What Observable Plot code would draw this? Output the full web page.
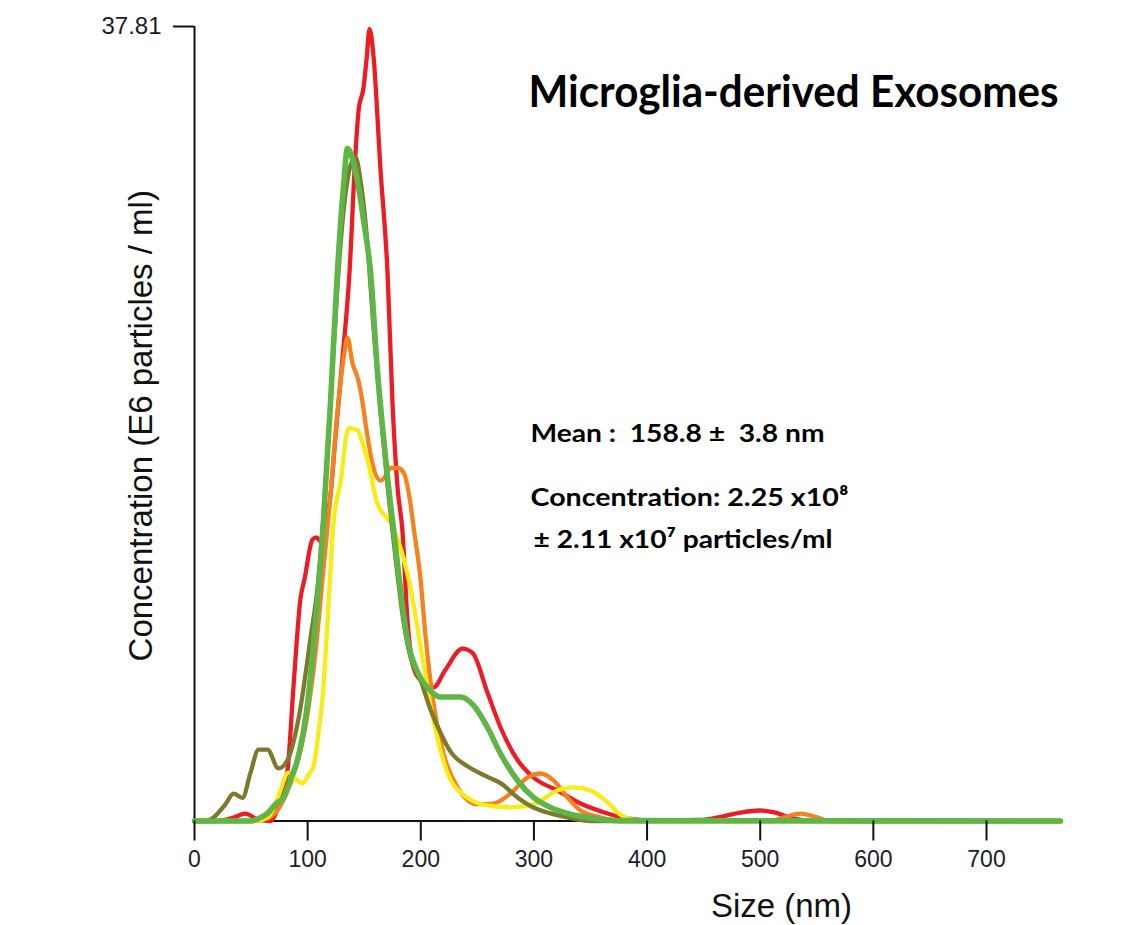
<!DOCTYPE html>
<html>
<head>
<meta charset="utf-8">
<script src="https://cdn.jsdelivr.net/npm/d3@7"></script>
<script src="https://cdn.jsdelivr.net/npm/@observablehq/plot@0.6"></script>
<style>
  html, body { margin: 0; padding: 0; background: #fff; }
</style>
</head>
<body>
<div id="chart"></div>
<script>
// ---- Data (size in nm, concentration in E6 particles / ml) ----
const red = [[0,0],[18.6,0],[33.6,0.15],[45.1,0.35],[56.6,0.05],[67.2,0],[77.8,1.45],[82.2,2.4],[87.5,6.4],[93.7,10.6],[97.2,11.5],[104.3,13.4],[107.8,13.5],[111.4,13.3],[115.8,14.0],[120.2,15.5],[124.6,18.3],[130.8,22.0],[137.0,26.1],[142.3,31.8],[145.0,33.8],[149.4,34.9],[152.0,36.2],[154.7,37.7],[158.2,36.4],[164.4,31.0],[170.6,26.1],[175.0,19.9],[179.4,15.9],[183.8,13.8],[188.3,9.5],[193.6,7.3],[199.8,6.7],[211.2,6.36],[221.8,7.2],[236.9,8.2],[245.7,8.0],[259.0,6.1],[270.5,4.45],[285.5,2.9],[299.6,2.07],[320.8,1.45],[341.2,0.83],[365.0,0.36],[382.7,0.12],[403.0,0.02],[447.2,0.05],[464.9,0.2],[482.6,0.4],[499.4,0.5],[513.5,0.4],[526.8,0.15],[544.5,0.02],[765.4,0]];
const orange = [[0,0],[49.5,0],[60.1,0.05],[71.6,0.4],[80.4,1.2],[89.3,2.5],[98.1,4.5],[106.9,8.0],[113.1,11.5],[120.2,15.5],[126.4,19.5],[131.7,22.0],[135.2,23.0],[139.6,21.8],[144.1,21.1],[146.7,20.5],[152.9,18.3],[157.3,17.0],[164.4,16.2],[168.8,16.4],[173.2,16.8],[179.4,16.8],[184.7,16.6],[190.9,15.1],[193.6,14.0],[199.8,11.5],[204.2,8.8],[211.2,5.6],[220.1,3.2],[232.5,1.6],[241.3,1.0],[250.1,0.8],[264.3,0.83],[279.3,1.31],[294.3,2.07],[305.8,2.26],[317.3,1.93],[329.7,1.12],[341.2,0.5],[358.8,0.17],[376.5,0],[509.1,0],[522.4,0.2],[535.6,0.35],[548.9,0.2],[562.1,0],[765.4,0]];
const yellow = [[0,0],[53.9,0],[65.4,0.2],[74.2,1.2],[83.1,2.3],[89.3,2.0],[95.5,1.8],[100.8,2.2],[105.2,2.6],[109.6,4.2],[114.0,6.4],[117.6,9.5],[122.9,14.2],[129.0,16.1],[136.1,18.7],[144.1,18.6],[148.5,18.0],[152.9,17.2],[161.7,15.1],[173.2,14.2],[182.1,13.0],[190.9,11.1],[199.8,8.3],[211.2,4.8],[223.6,2.3],[241.3,1.1],[259.0,0.74],[279.3,0.65],[299.6,0.8],[320.8,1.45],[335.0,1.6],[350.0,1.45],[365.0,0.9],[376.5,0.3],[389.8,0.05],[403.0,0],[765.4,0]];
const olive = [[0,0],[9.7,0],[16.8,0.17],[27.4,0.8],[34.5,1.3],[42.4,1.1],[49.5,2.3],[56.6,3.4],[64.5,3.4],[74.2,2.5],[82.2,2.9],[93.7,5.4],[102.5,8.7],[108.7,11.1],[114.0,14.5],[120.2,20.0],[126.4,25.5],[131.7,29.0],[137.9,31.2],[142.3,31.6],[146.7,30.5],[152.0,28.0],[158.2,23.5],[164.4,19.5],[171.5,15.5],[177.7,12.5],[184.7,9.5],[190.9,7.8],[199.8,6.7],[208.6,5.3],[217.4,4.2],[226.3,3.3],[241.3,2.6],[259.0,2.1],[270.5,1.8],[285.5,1.12],[299.6,0.64],[314.7,0.36],[329.7,0.17],[350.0,0],[765.4,0]];
const green = [[0,0],[49.5,0],[55.7,0.1],[64.5,0.36],[71.6,0.8],[78.7,1.12],[84.9,2.0],[91.0,2.9],[99.9,5.6],[107.0,9.5],[114.0,14.3],[120.2,19.9],[126.4,26.2],[131.7,30.2],[135.2,32.0],[139.6,31.5],[144.9,30.2],[149.4,28.6],[155.6,26.1],[161.7,21.4],[167.0,18.3],[173.2,15.1],[175.9,13.9],[182.1,11.0],[188.3,8.6],[197.1,7.1],[208.6,6.2],[217.4,5.9],[235.1,5.9],[246.6,5.5],[259.0,4.45],[270.5,3.2],[285.5,1.93],[299.6,1.12],[314.7,0.64],[329.7,0.36],[347.4,0.17],[376.5,0.02],[765.4,0]];

const xTicks = [0, 100, 200, 300, 400, 500, 600, 700];
const yMax = 37.81;
const xMax = 765.4;

const title = "Microglia-derived Exosomes";
const meanText = "Mean :  158.8 \u00b1  3.8 nm";
const concText = "Concentration: 2.25 x10\u2078";
const concErrText = "\u00b1 2.11 x10\u2077 particles/ml";
const yLabel = "Concentration (E6 particles / ml)";
const xLabel = "Size (nm)";

const toRows = pts => pts.map(([size, conc]) => ({size, conc}));

const lineOpts = (color, w) => ({x: "size", y: "conc", stroke: color, strokeWidth: w, curve: "monotone-x", strokeLinejoin: "round", strokeLinecap: "round"});

const calibri = "Lato, Carlito, Calibri, 'Open Sans', sans-serif";

const svg = Plot.plot({
  width: 1140,
  height: 925,
  marginLeft: 194,
  marginRight: 80,
  marginTop: 26,
  marginBottom: 104.5,
  style: {fontFamily: "'Liberation Sans', Arial, sans-serif", background: "#fff", color: "#1c1c2a"},
  x: {domain: [0, xMax]},
  y: {domain: [0, yMax]},
  marks: [
    Plot.ruleY([0], {stroke: "#111", strokeWidth: 2}),
    Plot.ruleX([0], {stroke: "#111", strokeWidth: 2}),
    Plot.line(toRows(red), lineOpts("#ed1c24", 4.3)),
    Plot.line(toRows(orange), lineOpts("#f5821f", 4.3)),
    Plot.line(toRows(yellow), lineOpts("#f7ec13", 4.3)),
    Plot.line(toRows(olive), lineOpts("#7c7a2c", 4.3)),
    Plot.line(toRows(green), lineOpts("#5db646", 5.6)),
    Plot.axisX({ticks: xTicks, tickSize: 20, tickPadding: 10, fontSize: 23, strokeWidth: 2, stroke: "#111", label: null, tickFormat: d => String(d)}),
    Plot.axisY({ticks: [yMax], tickSize: 21, tickPadding: 12, fontSize: 24, strokeWidth: 2, stroke: "#111", label: null, tickFormat: () => "37.81"}),
    Plot.text([yLabel], {frameAnchor: "left", text: d => d, rotate: -90, dx: -43, dy: 2, textAnchor: "middle", lineAnchor: "bottom", fontSize: 33, fill: "#111"}),
    Plot.text([xLabel], {frameAnchor: "bottom-left", text: d => d, dx: 587, dy: 96, textAnchor: "middle", lineAnchor: "bottom", fontSize: 33, fill: "#111"}),
    Plot.text([title], {frameAnchor: "top-left", text: d => d, dx: 334, dy: 80, textAnchor: "start", lineAnchor: "bottom", fontSize: 44, fontWeight: "bold", fontFamily: calibri, fill: "#000"}),
    Plot.text([meanText], {frameAnchor: "top-left", text: d => d, dx: 336, dy: 415, textAnchor: "start", lineAnchor: "bottom", fontSize: 25, fontWeight: "bold", fontFamily: calibri, fill: "#000"}),
    Plot.text([concText], {frameAnchor: "top-left", text: d => d, dx: 336, dy: 479, textAnchor: "start", lineAnchor: "bottom", fontSize: 25, fontWeight: "bold", fontFamily: calibri, fill: "#000"}),
    Plot.text([concErrText], {frameAnchor: "top-left", text: d => d, dx: 339, dy: 521, textAnchor: "start", lineAnchor: "bottom", fontSize: 25, fontWeight: "bold", fontFamily: calibri, fill: "#000"})
  ]
});

// Fit the Calibri-like texts to the widths seen in the reference
const fits = new Map([[title, 530], [meanText, 294], [concText, 318], [concErrText, 299]]);
svg.querySelectorAll("text").forEach(t => {
  const w = fits.get(t.textContent);
  if (w) { t.setAttribute("textLength", w); t.setAttribute("lengthAdjust", "spacingAndGlyphs"); }
});

document.getElementById("chart").appendChild(svg);
</script>
</body>
</html>
